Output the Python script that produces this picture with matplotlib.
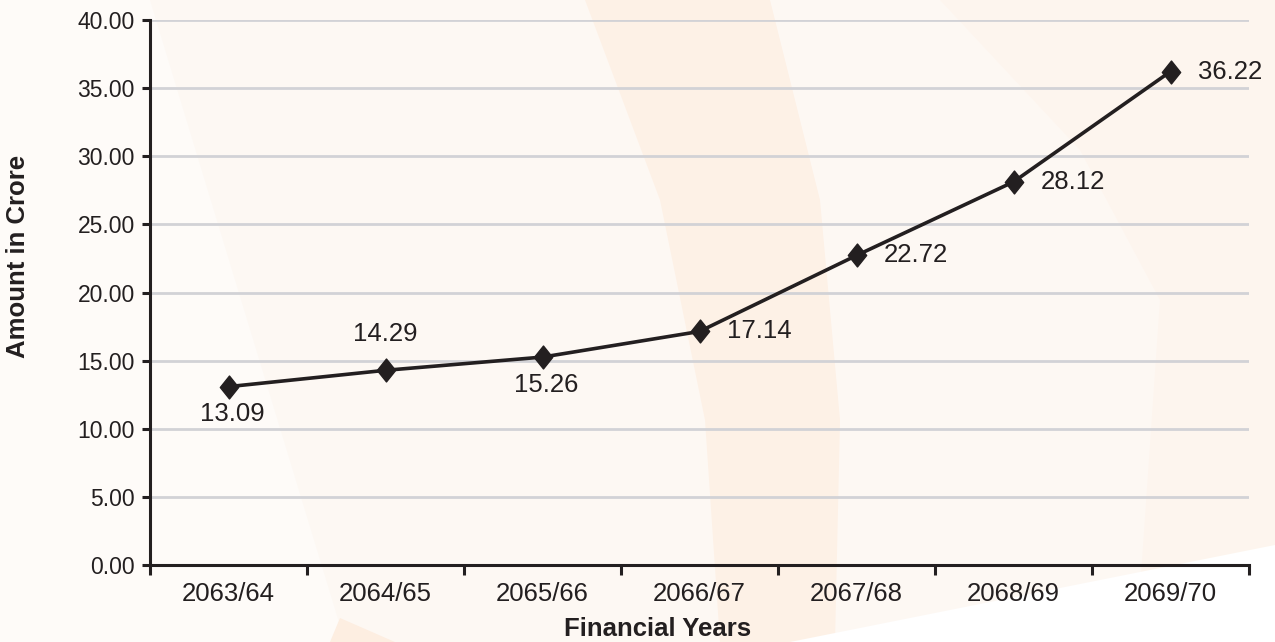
import matplotlib
matplotlib.use("Agg")
import matplotlib.pyplot as plt
from matplotlib.patches import Polygon
from matplotlib.path import Path

# ---- data ----
years = ["2063/64", "2064/65", "2065/66", "2066/67", "2067/68", "2068/69", "2069/70"]
amounts = [13.09, 14.29, 15.26, 17.14, 22.72, 28.12, 36.22]
label_pos = ["below", "above", "below", "right", "right", "right", "right"]
y_ticks = [0, 5, 10, 15, 20, 25, 30, 35, 40]

plt.rcParams['font.family'] = ['Liberation Sans', 'DejaVu Sans']
dark = '#231f20'

W, H = 1275, 642
fig = plt.figure(figsize=(W / 100, H / 100), dpi=100)
fig.patch.set_facecolor('#fdf8f3')


def px(points):
    return [(x / W, 1 - y / H) for x, y in points]


# decorative background (soft warm bands)
bg = [
    ([(0, 0), (150, 0), (345, 642), (0, 642)], '#fefbf8'),
    ([(585, 0), (770, 0), (820, 200), (840, 420), (835, 642), (720, 642), (705, 420), (660, 200)], '#fdf1e6'),
    ([(940, 0), (1275, 0), (1275, 555), (1140, 590), (1160, 300), (1080, 150)], '#fdf5ee'),
    ([(340, 618), (395, 642), (330, 642)], '#fdeee1'),
    ([(790, 642), (1000, 600), (1275, 545), (1275, 642)], '#ffffff'),
]
for pts, col in bg:
    fig.patches.append(Polygon(px(pts), closed=True, transform=fig.transFigure,
                               facecolor=col, edgecolor='none', zorder=-10))

ax = fig.add_axes([150 / W, 1 - 565 / H, (1249 - 150) / W, (565 - 20) / H])
ax.set_facecolor('none')

xs = [i + 0.5 for i in range(len(years))]

ax.set_xlim(0, len(years))
ax.set_ylim(0, 40)
ax.set_yticks(y_ticks)
ax.set_yticklabels([f"{v:.2f}" for v in y_ticks])
ax.set_xticks(range(len(years) + 1))
ax.set_xticklabels([])
ax.set_xticks(xs, minor=True)
ax.set_xticklabels(years, minor=True)

for s in ['top', 'right']:
    ax.spines[s].set_visible(False)
for s in ['left', 'bottom']:
    ax.spines[s].set_color(dark)
    ax.spines[s].set_linewidth(2.2)
    ax.spines[s].set_zorder(3)

ax.tick_params(axis='y', which='major', direction='out', length=6, width=2.2,
               color=dark, labelcolor=dark, labelsize=16.5, pad=5)
ax.tick_params(axis='x', which='major', direction='out', length=7, width=2.2,
               color=dark)
ax.tick_params(axis='x', which='minor', length=0, labelcolor=dark,
               labelsize=18.5, pad=12)

ax.yaxis.grid(True, color='#d2d2d6', linewidth=2.0, zorder=0)
ax.set_axisbelow(True)

diamond = Path([(0, 1), (0.8, 0), (0, -1), (-0.8, 0), (0, 1)],
               [Path.MOVETO, Path.LINETO, Path.LINETO, Path.LINETO, Path.CLOSEPOLY])
ax.plot(xs, amounts, color=dark, linewidth=2.6, marker=diamond, markersize=16.5,
        markerfacecolor=dark, markeredgecolor=dark, zorder=4, clip_on=False)

for x, v, pos in zip(xs, amounts, label_pos):
    if pos == 'below':
        off, ha = (3, -20), 'center'
    elif pos == 'above':
        off, ha = (0, 26), 'center'
    else:
        off, ha = (19.5, 0), 'left'
    ax.annotate(f"{v:.2f}", (x, v), xytext=off, textcoords='offset points',
                ha=ha, va='center', fontsize=18.5, color=dark, zorder=5)

fig.text(18 / W, 1 - 256 / H, "Amount in Crore", rotation=90, ha='center', va='center',
         fontsize=18.5, fontweight='bold', color=dark)
fig.text(658 / W, 1 - 629 / H, "Financial Years", ha='center', va='center',
         fontsize=18.5, fontweight='bold', color=dark)

fig.savefig("out.png", dpi=100, facecolor=fig.get_facecolor())
